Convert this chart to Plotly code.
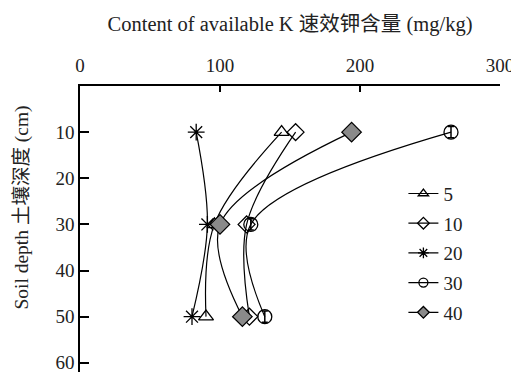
import plotly.graph_objects as go

depth = [10, 30, 50]
series_names = ["5", "10", "20", "30", "40"]
k_5 = [144, 96, 90]
k_10 = [154, 119, 121]
k_20 = [83, 91, 80]
k_30 = [265, 122, 132]
k_40 = [194, 100, 116]

x_ticks = [0, 100, 200, 300]
y_ticks = [10, 20, 30, 40, 50, 60]

FONT = "Liberation Serif, Times New Roman, Noto Sans CJK SC, serif"

styles = {
    "5": dict(symbol="triangle-up-open", color="black", size=13),
    "10": dict(symbol="diamond-open", color="black", size=13),
    "20": dict(symbol="asterisk-open", color="black", size=14),
    "30": dict(symbol="circle-open", color="black", size=14),
    "40": dict(symbol="diamond", color="#8a8a8a", size=15),
}
values = {"5": k_5, "10": k_10, "20": k_20, "30": k_30, "40": k_40}

fig = go.Figure()
for name in series_names:
    st = styles[name]
    kw = {}
    if name == "30":
        kw["error_y"] = dict(type="constant", value=1.2, color="black", thickness=1.5, width=3)
    fig.add_trace(go.Scatter(
        x=values[name], y=depth, name=name, mode="lines+markers", showlegend=False,
        line=dict(color="black", width=1.2, shape="spline", smoothing=1),
        marker=dict(symbol=st["symbol"], size=st["size"], color=st["color"],
                    line=dict(color="black", width=1.3)), **kw))

# legend entries with smaller markers, as in the reference key
for name in series_names:
    st = styles[name]
    fig.add_trace(go.Scatter(
        x=[None], y=[None], name=name, mode="lines+markers", legendgroup=name,
        line=dict(color="black", width=1.2),
        marker=dict(symbol=st["symbol"], size=9, color=st["color"],
                    line=dict(color="black", width=1.3))))

fig.update_layout(
    width=511, height=364,
    margin=dict(l=72, r=19, t=78, b=0),
    paper_bgcolor="white", plot_bgcolor="white",
    font=dict(family=FONT, size=19, color="#222"),
    showlegend=True,
    legend=dict(x=0.77, y=0.69, xanchor="left", yanchor="top",
                traceorder="grouped", tracegroupgap=2,
                font=dict(size=19), bgcolor="rgba(0,0,0,0)", itemwidth=30),
    xaxis=dict(side="top", range=[0, 300], tickvals=x_ticks, automargin=False,
               showgrid=False, zeroline=False, showline=True,
               linecolor="black", linewidth=1.5, ticks="inside", ticklen=6,
               tickcolor="black", tickwidth=1.5, ticklabelstandoff=5,
               ticklabeloverflow="allow",
               title=dict(text="Content of available K 速效钾含量 (mg/kg)",
                          font=dict(size=20.5), standoff=17)),
    yaxis=dict(range=[62, 0], tickvals=y_ticks, showgrid=False, zeroline=False,
               automargin=False, ticklabeloverflow="allow",
               showline=True, linecolor="black", linewidth=1.5,
               ticks="inside", ticklen=9, tickcolor="black", tickwidth=1.5),
    annotations=[dict(text="Soil depth 土壤深度 (cm)", xref="paper", yref="paper",
                      x=-0.138, y=0.575, textangle=-90, showarrow=False,
                      xanchor="center", yanchor="middle", font=dict(size=19.5))],
)

fig.write_html("out.html")
